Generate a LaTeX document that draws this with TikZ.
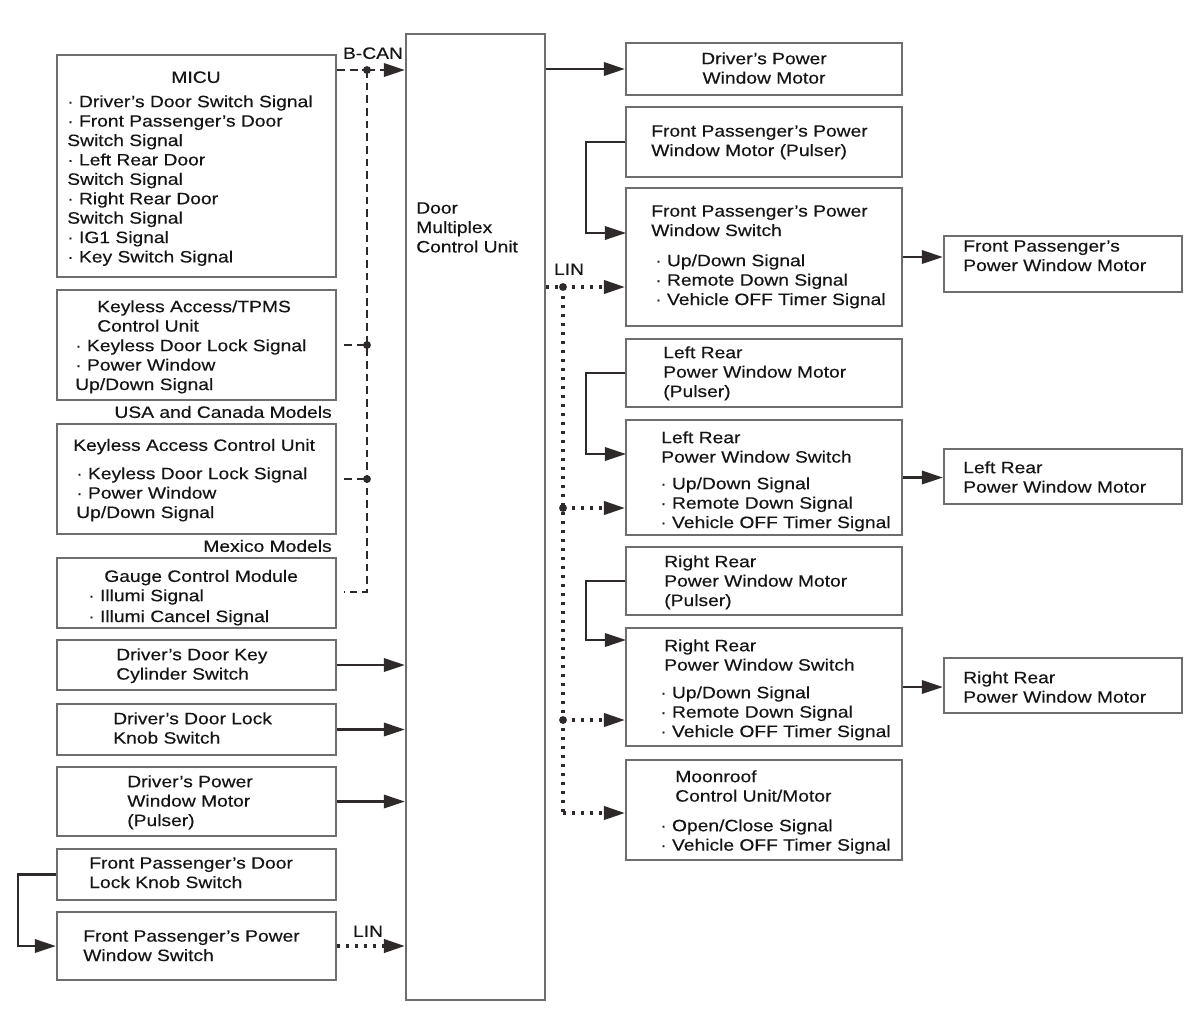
\documentclass[tikz,border=0pt]{standalone}
\usepackage{fontspec}
\setmainfont{Liberation Sans}[FakeStretch=1.17,FakeBold=0.35]
\usetikzlibrary{arrows.meta,fit,calc}
\definecolor{boxgray}{HTML}{6E6E6E}
\definecolor{linec}{HTML}{2E2A2A}
\definecolor{txtc}{HTML}{151515}
\newcommand\myfs{\fontsize{11.7pt}{13.8pt}\selectfont}
\newcommand\ap{{\char"0027}}
\tikzset{
  box/.style={draw=boxgray, line width=1.6pt, inner sep=0pt},
  txt/.style={anchor=north west, inner sep=0pt, align=left, font=\myfs, text=txtc, execute at begin node=\strut},
  txtr/.style={txt, anchor=north east, align=right},
  txtm/.style={txt, anchor=north, align=center},
  tipa/.style={-{Triangle[length=15pt,width=9.5pt]}},
  conn/.style={draw=linec, line width=1.7pt},
  bcan/.style={conn, dash pattern=on 5.5pt off 3.5pt},
  lin/.style={conn, line width=2.2pt, dash pattern=on 2.2pt off 4.2pt},
  jdot/.style={fill=linec}
}
\newcommand\mybox[5]{\node[box, fit={(#2,#3) (#4,#5)}] (#1) {};}
\newcommand\mytext[4]{\node[txt] (#1) at (#2,{#3-6}) {#4};}
\begin{document}
\begin{tikzpicture}[x=0.025cm, y=-0.025cm]
\fill[white] (0,0) rectangle (1200,1035);
\useasboundingbox (0,0) rectangle (1200,1035);

% boxes
\mybox{micu}{57}{55}{336}{277}
\mybox{tpms}{57}{290}{336}{400}
\mybox{kacu}{57}{424}{336}{534}
\mybox{gcm}{57}{558}{336}{628}
\mybox{dkc}{57}{640}{336}{690}
\mybox{dlk}{57}{704}{336}{755}
\mybox{dpwm}{57}{767}{336}{836}
\mybox{fplk}{57}{849}{336}{900}
\mybox{fpsw}{57}{912}{336}{980}
\mybox{dmcu}{406}{34}{545}{1000}
\mybox{rdpwm}{626}{43}{902}{95}
\mybox{fpp}{626}{107}{902}{177}
\mybox{fps}{626}{188}{902}{326}
\mybox{fpm}{944}{236}{1182}{292}
\mybox{lrp}{626}{339}{902}{407}
\mybox{lrs}{626}{420}{902}{535}
\mybox{lrm}{944}{449}{1182}{504}
\mybox{rrp}{626}{547}{902}{615}
\mybox{rrs}{626}{628}{902}{746}
\mybox{rrm}{944}{658}{1182}{713}
\mybox{moon}{626}{760}{902}{860}

% texts
\node[txtm] (micuT) at (196,69) {MICU};
\mytext{micuB}{67}{101}{· Driver\ap s Door Switch Signal\\· Front Passenger\ap s Door\\Switch Signal\\· Left Rear Door\\Switch Signal\\· Right Rear Door\\Switch Signal\\· IG1 Signal\\· Key Switch Signal}
\mytext{tpmsT}{97}{306}{Keyless Access/TPMS\\Control Unit}
\mytext{tpmsB}{75}{345}{· Keyless Door Lock Signal\\· Power Window\\Up/Down Signal}
\node[txtr] (usa) at (332,404) {USA and Canada Models};
\mytext{kacuT}{73}{443}{Keyless Access Control Unit}
\mytext{kacuB}{76}{473}{· Keyless Door Lock Signal\\· Power Window\\Up/Down Signal}
\node[txtr] (mex) at (332,538) {Mexico Models};
\mytext{gcmT}{104}{574}{Gauge Control Module}
\mytext{gcmB}{88}{595}{· Illumi Signal\\[1pt]· Illumi Cancel Signal}
\mytext{dkcT}{116}{654}{Driver’s Door Key\\Cylinder Switch}
\mytext{dlkT}{113}{718}{Driver’s Door Lock\\Knob Switch}
\mytext{dpwmT}{127}{781}{Driver’s Power\\Window Motor\\(Pulser)}
\mytext{fplkT}{89}{863}{Front Passenger’s Door\\Lock Knob Switch}
\mytext{fpswT}{83}{936}{Front Passenger’s Power\\Window Switch}
\mytext{dmcuT}{416}{208}{Door\\Multiplex\\Control Unit}
\node[txtm] (rdpwmT) at (764,52) {Driver’s Power\\Window Motor};
\mytext{fppT}{651}{131}{Front Passenger’s Power\\Window Motor (Pulser)}
\mytext{fpsT}{651}{211}{Front Passenger’s Power\\Window Switch}
\mytext{fpsB}{655}{260}{· Up/Down Signal\\· Remote Down Signal\\· Vehicle OFF Timer Signal}
\mytext{fpmT}{963}{246}{Front Passenger’s\\Power Window Motor}
\mytext{lrpT}{663}{352}{Left Rear\\Power Window Motor\\(Pulser)}
\mytext{lrsT}{661}{437}{Left Rear\\Power Window Switch}
\mytext{lrsB}{660}{483}{· Up/Down Signal\\· Remote Down Signal\\· Vehicle OFF Timer Signal}
\mytext{lrmT}{963}{467}{Left Rear\\Power Window Motor}
\mytext{rrpT}{664}{561}{Right Rear\\Power Window Motor\\(Pulser)}
\mytext{rrsT}{664}{645}{Right Rear\\Power Window Switch}
\mytext{rrsB}{660}{692}{· Up/Down Signal\\· Remote Down Signal\\· Vehicle OFF Timer Signal}
\mytext{rrmT}{963}{677}{Right Rear\\Power Window Motor}
\mytext{moonT}{675}{776}{Moonroof\\Control Unit/Motor}
\mytext{moonB}{660}{825}{· Open/Close Signal\\· Vehicle OFF Timer Signal}

% bus labels
\node[txtm] (bcanL) at (373,45) {B-CAN};
\node[txtm] (linR) at (569,261) {LIN};
\node[txtm] (linL) at (368,923) {LIN};

% B-CAN
\coordinate (bj0) at (367,70);
\coordinate (bj1) at (367,345);
\coordinate (bj2) at (367,479);
\coordinate (bj3) at (367,592);
\draw[bcan] (micu.east |- bj0) -- (bj0);
\draw[bcan,tipa] (bj0) -- (dmcu.west |- bj0);
\draw[bcan] (bj0) -- (bj3) -- ([xshift=5pt]gcm.east |- bj3);
\draw[bcan] ([xshift=5pt]tpms.east |- bj1) -- (bj1);
\draw[bcan] ([xshift=5pt]kacu.east |- bj2) -- (bj2);
\foreach \j in {bj0,bj1,bj2} \fill[jdot] (\j) circle (2.8pt);

% LIN right
\coordinate (lj0) at (563,287);
\coordinate (lj1) at (563,508);
\coordinate (lj2) at (563,720);
\coordinate (lj3) at (563,813);
\draw[lin] (dmcu.east |- lj0) -- (lj0);
\draw[lin,tipa] (lj0) -- (fps.west |- lj0);
\draw[lin] (lj0) -- (lj3);
\draw[lin,tipa] (lj1) -- (lrs.west |- lj1);
\draw[lin,tipa] (lj2) -- (rrs.west |- lj2);
\draw[lin,tipa] (lj3) -- (moon.west |- lj3);
\foreach \j in {lj0,lj1,lj2} \fill[jdot] (\j) circle (2.8pt);

% right solid connectors
\coordinate (bkx) at (586,0);
\coordinate (fpin) at (626,233);
\coordinate (lrin) at (626,454);
\coordinate (rrin) at (626,640);
\draw[conn,tipa] (dmcu.east |- rdpwm.west) -- (rdpwm.west);
\draw[conn,tipa] (fpp.west) -- (fpp.west -| bkx) |- (fpin);
\draw[conn,tipa] (lrp.west) -- (lrp.west -| bkx) |- (lrin);
\draw[conn,tipa] (rrp.west) -- (rrp.west -| bkx) |- (rrin);
\draw[conn,tipa] (fps.east) -- (fpm.west |- fps.east);
\draw[conn,tipa] (lrs.east) -- (lrm.west |- lrs.east);
\draw[conn,tipa] (rrs.east) -- (rrm.west |- rrs.east);

% left solid connectors
\coordinate (lkx) at (18,0);
\draw[conn,tipa] (dkc.east) -- (dmcu.west |- dkc.east);
\draw[conn,tipa] (dlk.east) -- (dmcu.west |- dlk.east);
\draw[conn,tipa] (dpwm.east) -- (dmcu.west |- dpwm.east);
\draw[conn,tipa] (fplk.west) -- (fplk.west -| lkx) |- (fpsw.west);
\draw[lin,tipa] (fpsw.east) -- (dmcu.west |- fpsw.east);
\end{tikzpicture}
\end{document}
